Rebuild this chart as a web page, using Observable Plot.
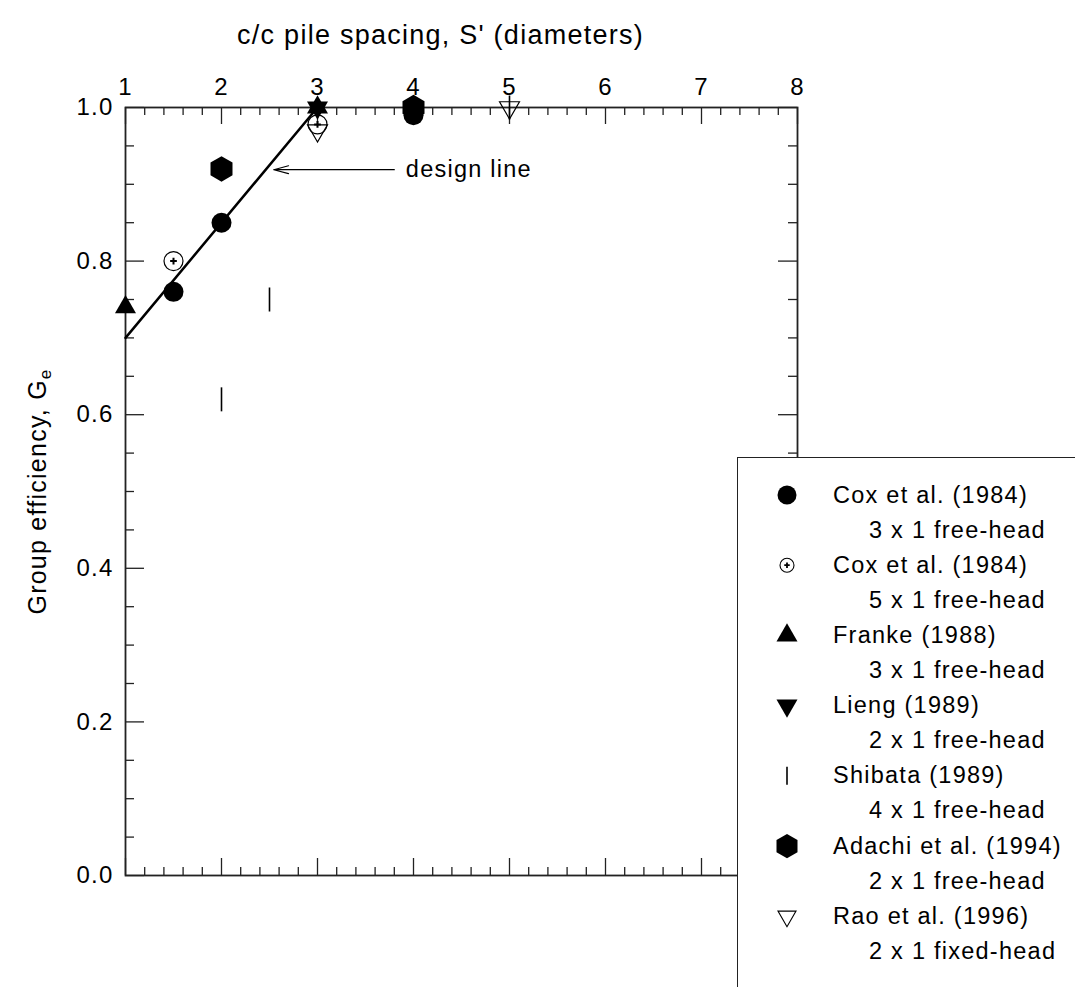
<!DOCTYPE html>
<html><head><meta charset="utf-8">
<script src="https://cdn.jsdelivr.net/npm/d3@7"></script>
<script src="https://cdn.jsdelivr.net/npm/@observablehq/plot@0.6"></script>
<style>
body{margin:0;background:#fff;}
#wrap{position:relative;width:1075px;height:987px;overflow:hidden;background:#fff;}
#legend{position:absolute;left:737px;top:457px;width:340px;height:532px;background:#fff;border-left:1.5px solid #222;border-top:1.5px solid #222;}
#legend svg{display:block;}
</style></head><body><div id="wrap"><div id="main"></div><div id="legend"></div></div>
<script>
// ---------- text ----------
const xTitle = "c/c pile spacing, S' (diameters)";
const yTitle = "Group efficiency, G";
const ySub = "e";
const designLabel = "design line";

// ---------- axes ----------
const xTickLabels = [1, 2, 3, 4, 5, 6, 7, 8];
const xMinorTicks = [1.2,1.4,1.6,1.8, 2.2,2.4,2.6,2.8, 3.2,3.4,3.6,3.8, 4.2,4.4,4.6,4.8, 5.2,5.4,5.6,5.8, 6.2,6.4,6.6,6.8, 7.2,7.4,7.6,7.8];
const yTickLabels = [0, 0.2, 0.4, 0.6, 0.8, 1.0];
const yMinorTicks = [0.05,0.1,0.15, 0.25,0.3,0.35, 0.45,0.5,0.55, 0.65,0.7,0.75, 0.85,0.9,0.95];

// ---------- series ----------
const coxFreeX = [1.5, 2, 4];        const coxFreeY = [0.76, 0.85, 0.99];   // Cox 3x1
const cox5X = [1.5, 3];              const cox5Y = [0.80, 0.978];           // Cox 5x1
const frankeX = [1, 3];              const frankeY = [0.74, 1.0];
const liengX = [3];                  const liengY = [1.0];
const shibataX = [2, 2.5, 5];        const shibataY = [0.62, 0.75, 1.0];
const adachiX = [2, 4];              const adachiY = [0.92, 1.0];
const raoX = [3, 5];                 const raoY = [0.97, 1.0];

// design line and its annotation
const designX = [1, 3];              const designY = [0.70, 1.0];
const arrowFrom = [3.8, 0.919];      const arrowTo = [2.545, 0.919];
const labelAt = [3.92, 0.919];

// ---------- legend ----------
const legendNames = ["Cox et al. (1984)", "Cox et al. (1984)", "Franke (1988)", "Lieng (1989)", "Shibata (1989)", "Adachi et al. (1994)", "Rao et al. (1996)"];
const legendSubs = ["3 x 1 free-head", "5 x 1 free-head", "3 x 1 free-head", "2 x 1 free-head", "4 x 1 free-head", "2 x 1 free-head", "2 x 1 fixed-head"];

const pts = (xs, ys) => xs.map((x, i) => ({x, y: ys[i]}));
const vline = {draw(ctx, size) { const h = Math.sqrt(size / Math.PI); ctx.moveTo(0, -h); ctx.lineTo(0, h); }};

const W = 1075, H = 987, mL = 125, mR = 278, mT = 107, mB = 112;
const plotW = W - mL - mR, plotH = H - mT - mB;
const yMajLen = 19, yMinLen = 9, xMajLen = 17, xMinLen = 8;
const font = "'Liberation Sans', Arial, Helvetica, sans-serif";
const ink = "#000", axisInk = "#222";

const main = Plot.plot({
  width: W, height: H,
  marginLeft: mL, marginRight: mR, marginTop: mT, marginBottom: mB,
  x: {domain: [1, 8], axis: null},
  y: {domain: [0, 1], axis: null},
  style: {fontFamily: font, fontSize: "24px", background: "#fff", color: ink, letterSpacing: "1.25px"},
  marks: [
    // tick marks (inward) on all four sides
    Plot.ruleX(xTickLabels, {x: d => d, insetBottom: plotH - xMajLen, stroke: axisInk, strokeWidth: 1.3}),
    Plot.ruleX(xMinorTicks, {x: d => d, insetBottom: plotH - xMinLen, stroke: axisInk, strokeWidth: 1.3}),
    Plot.ruleX(xTickLabels, {x: d => d, insetTop: plotH - xMajLen, stroke: axisInk, strokeWidth: 1.3}),
    Plot.ruleX(xMinorTicks, {x: d => d, insetTop: plotH - xMinLen, stroke: axisInk, strokeWidth: 1.3}),
    Plot.ruleY(yTickLabels, {y: d => d, insetRight: plotW - yMajLen, stroke: axisInk, strokeWidth: 1.3}),
    Plot.ruleY(yMinorTicks, {y: d => d, insetRight: plotW - yMinLen, stroke: axisInk, strokeWidth: 1.3}),
    Plot.ruleY(yTickLabels, {y: d => d, insetLeft: plotW - yMajLen, stroke: axisInk, strokeWidth: 1.3}),
    Plot.ruleY(yMinorTicks, {y: d => d, insetLeft: plotW - yMinLen, stroke: axisInk, strokeWidth: 1.3}),
    Plot.frame({stroke: axisInk, strokeWidth: 1.8}),
    // tick labels
    Plot.text(xTickLabels, {x: d => d, frameAnchor: "top", dy: -20, lineAnchor: "middle", textAnchor: "middle", fontSize: 24, text: d => String(d)}),
    Plot.text(yTickLabels, {y: d => d, frameAnchor: "left", dx: -12, lineAnchor: "middle", textAnchor: "end", fontSize: 24, text: d3.format(".1f")}),
    // axis titles
    Plot.text([xTitle], {frameAnchor: "top", dx: -21, dy: -72, lineAnchor: "middle", textAnchor: "middle", fontSize: 27, letterSpacing: "1.3px", text: d => d}),
    Plot.text([yTitle], {frameAnchor: "left", dx: -88, rotate: -90, lineAnchor: "middle", textAnchor: "middle", fontSize: 25, text: d => d}),
    // design line + annotation
    Plot.line(pts(designX, designY), {x: "x", y: "y", stroke: ink, strokeWidth: 2.5}),
    Plot.arrow([{x1: arrowFrom[0], y1: arrowFrom[1], x2: arrowTo[0], y2: arrowTo[1]}], {x1: "x1", y1: "y1", x2: "x2", y2: "y2", stroke: ink, strokeWidth: 1.2, headAngle: 30, headLength: 19}),
    Plot.text([designLabel], {x: labelAt[0], y: labelAt[1], textAnchor: "start", lineAnchor: "middle", fontSize: 23.5, text: d => d}),
    // data
    Plot.dot(pts(coxFreeX, coxFreeY), {x: "x", y: "y", symbol: "circle", r: 10, fill: ink, stroke: "none"}),
    Plot.dot(pts(adachiX, adachiY), {x: "x", y: "y", symbol: "hexagon", r: 11, fill: ink, stroke: "none"}),
    Plot.dot(pts(cox5X, cox5Y), {x: "x", y: "y", symbol: "circle", r: 9.5, fill: "none", stroke: ink, strokeWidth: 1.2}),
    Plot.dot(pts(cox5X, cox5Y), {x: "x", y: "y", symbol: "plus", r: 2.3, fill: "none", stroke: ink, strokeWidth: 2}),
    Plot.dot(pts(raoX, raoY), {x: "x", y: "y", symbol: "triangle", rotate: 180, r: 7.4, fill: "none", stroke: ink, strokeWidth: 1.2}),
    Plot.dot(pts(shibataX, shibataY), {x: "x", y: "y", symbol: vline, r: 12, fill: "none", stroke: ink, strokeWidth: 1.6}),
    Plot.dot(pts(frankeX, frankeY), {x: "x", y: "y", symbol: "triangle", r: 7.8, fill: ink, stroke: "none"}),
    Plot.dot(pts(liengX, liengY), {x: "x", y: "y", symbol: "triangle", rotate: 180, r: 7.8, fill: ink, stroke: "none"})
  ]
});

d3.select(main).selectAll("text").filter(function() { return this.textContent === yTitle; })
  .append("tspan").attr("dy", "0.35em").attr("font-size", "0.68em").text(ySub);
document.getElementById("main").append(main);

// ---------- legend (second small Plot) ----------
const lgH = 529;
const legendSymbols = [
  {symbol: "circle", r: 9.5, fill: ink, stroke: "none"},
  {symbol: "circle", r: 7, fill: "none", stroke: ink, strokeWidth: 1.1},
  {symbol: "triangle", r: 7.8, fill: ink, stroke: "none"},
  {symbol: "triangle", rotate: 180, r: 7.8, fill: ink, stroke: "none"},
  {symbol: vline, r: 9, fill: "none", stroke: ink, strokeWidth: 1.6},
  {symbol: "hexagon", r: 10.5, fill: ink, stroke: "none"},
  {symbol: "triangle", rotate: 180, r: 6.7, fill: "none", stroke: ink, strokeWidth: 1.1}
];
const legendMarks = legendSymbols.map((s, i) =>
  Plot.dot([i], {y: d => d, frameAnchor: "left", dx: 48.5, ...s}));
legendMarks.push(Plot.dot([1], {y: d => d, frameAnchor: "left", dx: 48.5, symbol: "plus", r: 1.9, fill: "none", stroke: ink, strokeWidth: 1.8}));

const legend = Plot.plot({
  width: 338, height: lgH,
  marginLeft: 0, marginRight: 0, marginTop: 36.5, marginBottom: 1,
  y: {domain: [0, 7], reverse: true, axis: null},
  style: {fontFamily: font, fontSize: "23.5px", background: "#fff", color: ink, letterSpacing: "1.25px", overflow: "visible"},
  marks: [
    ...legendMarks,
    Plot.text(legendNames, {y: (d, i) => i, frameAnchor: "left", dx: 94.5, textAnchor: "start", lineAnchor: "middle", text: d => d}),
    Plot.text(legendSubs, {y: (d, i) => i + 0.5, frameAnchor: "left", dx: 130.5, textAnchor: "start", lineAnchor: "middle", text: d => d})
  ]
});
document.getElementById("legend").append(legend);
</script>
</body></html>
